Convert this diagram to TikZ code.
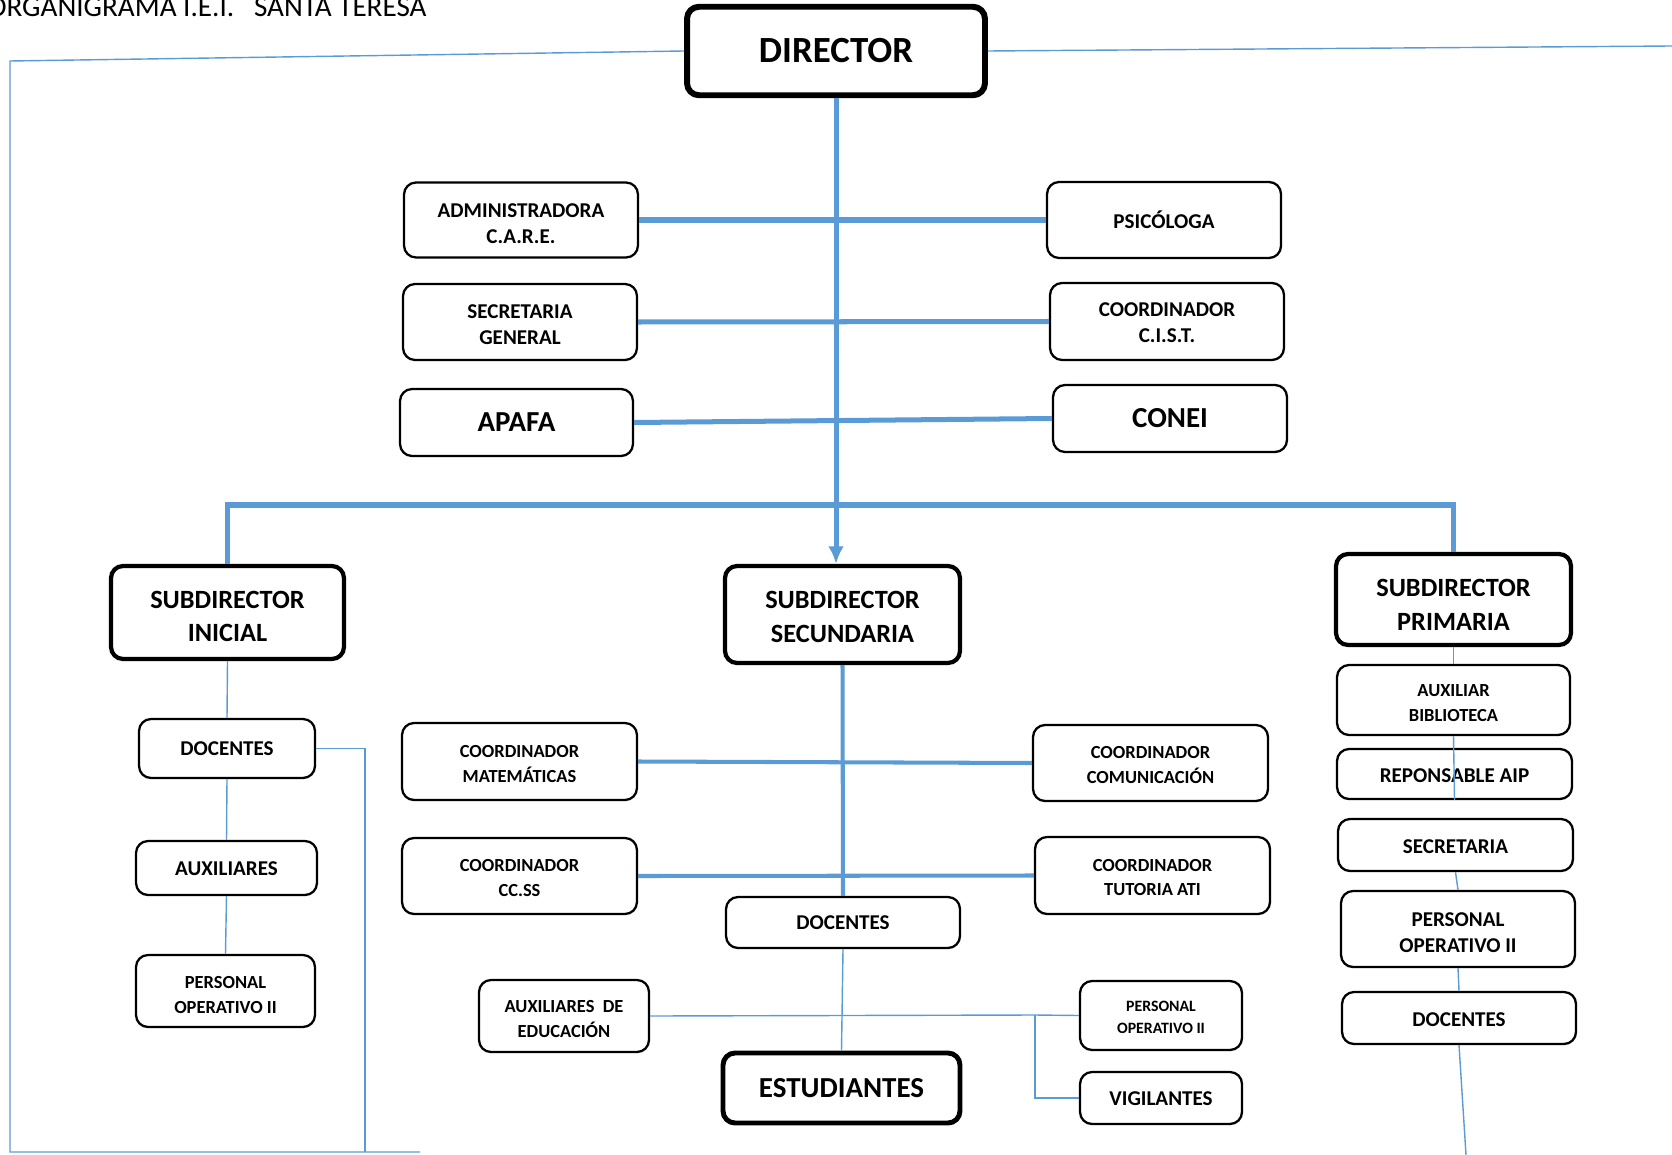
\documentclass[tikz,border=0pt]{standalone}
\usepackage{fontspec}
\setmainfont{Carlito}
\usepackage{tikz}
\usetikzlibrary{arrows.meta}
\definecolor{azul}{RGB}{91,155,213}
\newcommand\bj[1]{\rule{0pt}{#1}}

\begin{document}
\begin{tikzpicture}[x=0.02cm, y=-0.02cm,
                    every node/.style = {text=black, align=center, inner sep=0pt},
                    box/.style = {draw, rounded corners=0.24cm, line width=1.3pt, font=\bfseries\fontsize{12}{15}\selectfont},
                    bbox/.style = {box, line width=2.4pt, font=\bfseries\fontsize{15}{19}\selectfont},
                    fbig/.style = {font=\bfseries\fontsize{16.5}{19}\selectfont},
                    fsml/.style = {font=\bfseries\fontsize{10.5}{14.2}\selectfont},
                    ftny/.style = {font=\bfseries\fontsize{9}{12.3}\selectfont},
                    thk/.style = {draw=azul, line width=2.85pt},
                    mid/.style = {draw=azul, line width=2.3pt},
                    thn/.style = {draw=azul, line width=0.8pt}]
    \useasboundingbox (0,0) rectangle (1672,1155);
    \node (tit) [anchor=base west, font=\fontsize{16.6}{19}\selectfont] at (-13,17) {ORGANIGRAMA I.E.I.\ \ \ SANTA TERESA};

    \node (dir) [bbox, line width=3.4pt, minimum width=5.96cm, minimum height=1.77cm, font=\bfseries\fontsize{21}{25}\selectfont] at (836,51) {DIRECTOR};

    \node (adm)   [box, minimum width=4.68cm, minimum height=1.50cm] at (521,220) {\bj{11.9pt}ADMINISTRADORA\\C.A.R.E.};
    \node (psi)   [box, minimum width=4.68cm, minimum height=1.52cm] at (1164,220) {PSICÓLOGA};
    \node (secg)  [box, minimum width=4.68cm, minimum height=1.52cm] at (520,322) {\bj{10.7pt}SECRETARIA\\GENERAL};
    \node (cist)  [box, minimum width=4.68cm, minimum height=1.54cm] at (1167,321.5) {\bj{9.5pt}COORDINADOR\\C.I.S.T.};
    \node (apafa) [box, fbig, minimum width=4.66cm, minimum height=1.34cm] at (516.5,422.5) {APAFA};
    \node (conei) [box, fbig, minimum width=4.68cm, minimum height=1.34cm] at (1170,418.5) {CONEI};

    \node (sini)  [bbox, minimum width=4.66cm, minimum height=1.86cm] at (227.5,612.5) {\bj{14.5pt}SUBDIRECTOR\\INICIAL};
    \node (ssec)  [bbox, minimum width=4.70cm, minimum height=1.94cm] at (842.5,614.5) {\bj{12.8pt}SUBDIRECTOR\\SECUNDARIA};
    \node (sprim) [bbox, minimum width=4.70cm, minimum height=1.82cm] at (1453.5,599.5) {\bj{15.9pt}SUBDIRECTOR\\PRIMARIA};

    \node (idoc) [box, minimum width=3.52cm, minimum height=1.18cm] at (227,748.5) {DOCENTES};
    \node (iaux) [box, minimum width=3.62cm, minimum height=1.08cm] at (226.5,868) {\bj{9pt}AUXILIARES};
    \node (iper) [box, fsml, minimum width=3.58cm, minimum height=1.44cm] at (225.5,991) {\bj{11.6pt}PERSONAL\\OPERATIVO II};

    \node (cmat) [box, fsml, minimum width=4.70cm, minimum height=1.54cm] at (519.5,761.5) {\bj{9.2pt}COORDINADOR\\MATEMÁTICAS};
    \node (ccom) [box, fsml, minimum width=4.70cm, minimum height=1.52cm] at (1150.5,763) {\bj{9.2pt}COORDINADOR\\COMUNICACIÓN};
    \node (ccss) [box, fsml, minimum width=4.70cm, minimum height=1.52cm] at (519.5,876) {\bj{9.2pt}COORDINADOR\\CC.SS};
    \node (ctut) [box, fsml, minimum width=4.70cm, minimum height=1.54cm] at (1152.5,875.5) {\bj{9.2pt}COORDINADOR\\TUTORIA ATI};
    \node (sdoc) [box, minimum width=4.68cm, minimum height=1.02cm] at (843,922.5) {DOCENTES};
    \node (saux) [box, fsml, minimum width=3.40cm, minimum height=1.44cm] at (564,1016) {\bj{10.4pt}AUXILIARES\ \ DE\\EDUCACIÓN};
    \node (est)  [box, fbig, line width=2.8pt, minimum width=4.74cm, minimum height=1.40cm] at (841.5,1088) {ESTUDIANTES};
    \node (sper) [box, ftny, minimum width=3.24cm, minimum height=1.38cm] at (1161,1015.5) {\bj{8.2pt}PERSONAL\\OPERATIVO II};
    \node (vig)  [box, minimum width=3.24cm, minimum height=1.04cm] at (1161,1098) {\bj{9pt}VIGILANTES};

    \node (pbib) [box, fsml, minimum width=4.66cm, minimum height=1.40cm] at (1453.5,700) {\bj{10.4pt}AUXILIAR\\BIBLIOTECA};
    \node (paip) [box, minimum width=4.70cm, minimum height=1.00cm] at (1454.5,774) {\bj{10.2pt}REPONSABLE AIP};
    \node (psec) [box, minimum width=4.70cm, minimum height=1.04cm] at (1455.5,845) {\bj{10.2pt}SECRETARIA};
    \node (pper) [box, minimum width=4.68cm, minimum height=1.52cm] at (1458,929) {\bj{11.9pt}PERSONAL\\OPERATIVO II};
    \node (pdoc) [box, minimum width=4.68cm, minimum height=1.04cm] at (1459,1018) {\bj{10.2pt}DOCENTES};

    \coordinate (lt) at (10,61);
    \coordinate (lb) at (10,1152);
    \coordinate (bt) at (420,1152);
    \coordinate (rt) at (1672,46);
    \coordinate (ib) at (365,1152);
    \coordinate (jn) at (838,505);
    \coordinate (jb) at (1035,1015);
    \coordinate (pb) at (1466,1155);

    \draw[thn] (dir.west) -- (lt) -- (lb) -- (bt);
    \draw[thn] (dir.east) -- (rt);
    \draw[thn] (idoc.east) -| (ib);

    \draw[thk, -{Latex[length=10pt, width=9pt]}] (dir.south) -- (dir.south |- ssec.north);
    \draw[thk] (sini.north) |- (jn) -| (sprim.north);
    \draw[thk] (adm.east) -- (psi.west);
    \draw[thk] (secg.east) -- (cist.west);
    \draw[thk] (apafa.east) -- (conei.west);

    \draw[mid] (ssec.south) -- (sdoc.north);
    \draw[mid] (cmat.east) -- (ccom.west);
    \draw[mid] (ccss.east) -- (ctut.west);

    \draw[thn] (sini.south) -- (idoc.north);
    \draw[thn] (idoc.south) -- (iaux.north);
    \draw[thn] (iaux.south) -- (iper.north);

    \draw[thn] (sdoc.south) -- (est.north);
    \draw[thn] (saux.east) -- (jb) -- (sper.west);
    \draw[thn] (jb) |- (vig.west);

    \draw[thn] (sprim.south) -- (pbib.north);
    \draw[thn] (pbib.south) -- (paip.south);
    \draw[thn] (psec.south) -- (pper.north);
    \draw[thn] (pper.south) -- (pdoc.north);
    \draw[thn] (pdoc.south) -- (pb);
\end{tikzpicture}
\end{document}
